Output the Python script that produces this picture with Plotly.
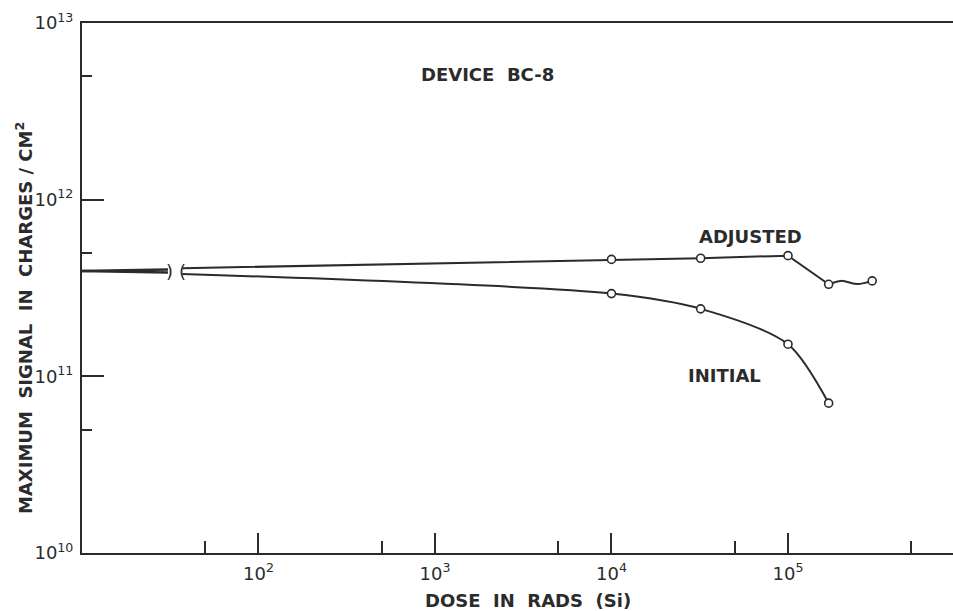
import plotly.graph_objects as go

# ---- data (dose in rads (Si), signal in charges/cm^2) ----
pre_dose = [10, 30.7]                     # segment left of the axis break
pre_adjusted = [3.95e11, 4.03e11]
pre_initial = [3.95e11, 3.87e11]

dose = [37, 1e4, 3.2e4, 1e5, 1.7e5]
adjusted = [4.09e11, 4.59e11, 4.66e11, 4.82e11, 3.32e11]
initial = [3.80e11, 2.94e11, 2.41e11, 1.52e11, 7.05e10]

tail_dose = [1.7e5, 2.0e5, 2.48e5, 3.0e5]   # wavy end of the ADJUSTED curve
tail_adjusted = [3.32e11, 3.47e11, 3.33e11, 3.47e11]

x_major = [1e2, 1e3, 1e4, 1e5]
x_major_text = ["10<sup>2</sup>", "10<sup>3</sup>", "10<sup>4</sup>", "10<sup>5</sup>"]
x_minor = [50, 500, 5e3, 5e4, 5e5]
y_major = [1e10, 1e11, 1e12, 1e13]
y_major_text = ["10<sup>10</sup>", "10<sup>11</sup>", "10<sup>12</sup>", "10<sup>13</sup>"]
y_minor = [5e10, 5e11, 5e12]

INK = "#2b2b2b"
FONT = "DejaVu Sans"

fig = go.Figure()
line = dict(color=INK, width=2)

fig.add_trace(go.Scatter(x=pre_dose, y=pre_adjusted, mode="lines", line=dict(color=INK, width=2.5), showlegend=False))
fig.add_trace(go.Scatter(x=pre_dose, y=pre_initial, mode="lines", line=dict(color=INK, width=2.5), showlegend=False))
fig.add_trace(go.Scatter(x=dose, y=adjusted, mode="lines", line=line, showlegend=False))
fig.add_trace(go.Scatter(x=tail_dose, y=tail_adjusted, mode="lines",
                         line=dict(color=INK, width=2, shape="spline", smoothing=1.0), showlegend=False))
fig.add_trace(go.Scatter(x=dose, y=initial, mode="lines",
                         line=dict(color=INK, width=2, shape="spline", smoothing=0.8), showlegend=False))

marker = dict(symbol="circle", size=8, color="white", line=dict(color=INK, width=1.6))
fig.add_trace(go.Scatter(x=dose[1:] + tail_dose[-1:], y=adjusted[1:] + tail_adjusted[-1:],
                         mode="markers", marker=marker, showlegend=False))
fig.add_trace(go.Scatter(x=dose[1:], y=initial[1:], mode="markers", marker=marker, showlegend=False))

L, R, T, B = 82, 0, 23, 58
W, H = 953, 611
pw, ph = W - L - R, H - T - B


def px(xp):
    return (xp - L) / pw


def py(yp):
    return (H - B - yp) / ph


tf = dict(family=FONT, size=18, color=INK, weight="bold")
tickf = dict(family=FONT, size=18, color=INK, weight="normal")

fig.update_layout(
    width=W, height=H,
    margin=dict(l=L, r=R, t=T, b=B, pad=0),
    paper_bgcolor="white", plot_bgcolor="white",
    font=tickf,
    xaxis=dict(
        type="log", range=[1, 5.935], showgrid=False, zeroline=False,
        showline=True, linecolor=INK, linewidth=2, mirror=True,
        ticks="inside", ticklen=20, tickwidth=2, tickcolor=INK,
        tickmode="array", tickvals=x_major, ticktext=x_major_text,
        tickfont=tickf, ticklabelstandoff=3,
        minor=dict(tickmode="array", tickvals=x_minor, ticks="inside", ticklen=12,
                   tickwidth=2, tickcolor=INK, showgrid=False),
    ),
    yaxis=dict(
        type="log", range=[10, 13], showgrid=False, zeroline=False,
        showline=True, linecolor=INK, linewidth=2, mirror=False,
        ticks="inside", ticklen=22, tickwidth=2, tickcolor=INK,
        tickmode="array", tickvals=y_major, ticktext=y_major_text,
        tickfont=tickf, ticklabelstandoff=3,
        minor=dict(tickmode="array", tickvals=y_minor, ticks="inside", ticklen=10,
                   tickwidth=2, tickcolor=INK, showgrid=False),
    ),
)

ann = [
    dict(text="DEVICE  BC-8", x=px(487), y=py(75)),
    dict(text="ADJUSTED", x=px(750), y=py(236)),
    dict(text="INITIAL", x=px(724), y=py(375)),
    dict(text="DOSE  IN  RADS  (Si)", x=px(528), y=py(600)),
    dict(text="MAXIMUM  SIGNAL  IN  CHARGES / CM<sup>2</sup>", x=px(24), y=py(318), textangle=-90),
]
for a in ann:
    fig.add_annotation(xref="paper", yref="paper", showarrow=False,
                       xanchor="center", yanchor="middle", font=tf, **a)

# axis-break marks on the curves
fig.add_annotation(xref="paper", yref="paper", x=px(169), y=py(271), text=")", showarrow=False,
                   font=dict(family=FONT, size=18, color=INK), xanchor="center", yanchor="middle")
fig.add_annotation(xref="paper", yref="paper", x=px(182), y=py(271), text="(", showarrow=False,
                   font=dict(family=FONT, size=18, color=INK), xanchor="center", yanchor="middle")

fig.write_html("out.html")
